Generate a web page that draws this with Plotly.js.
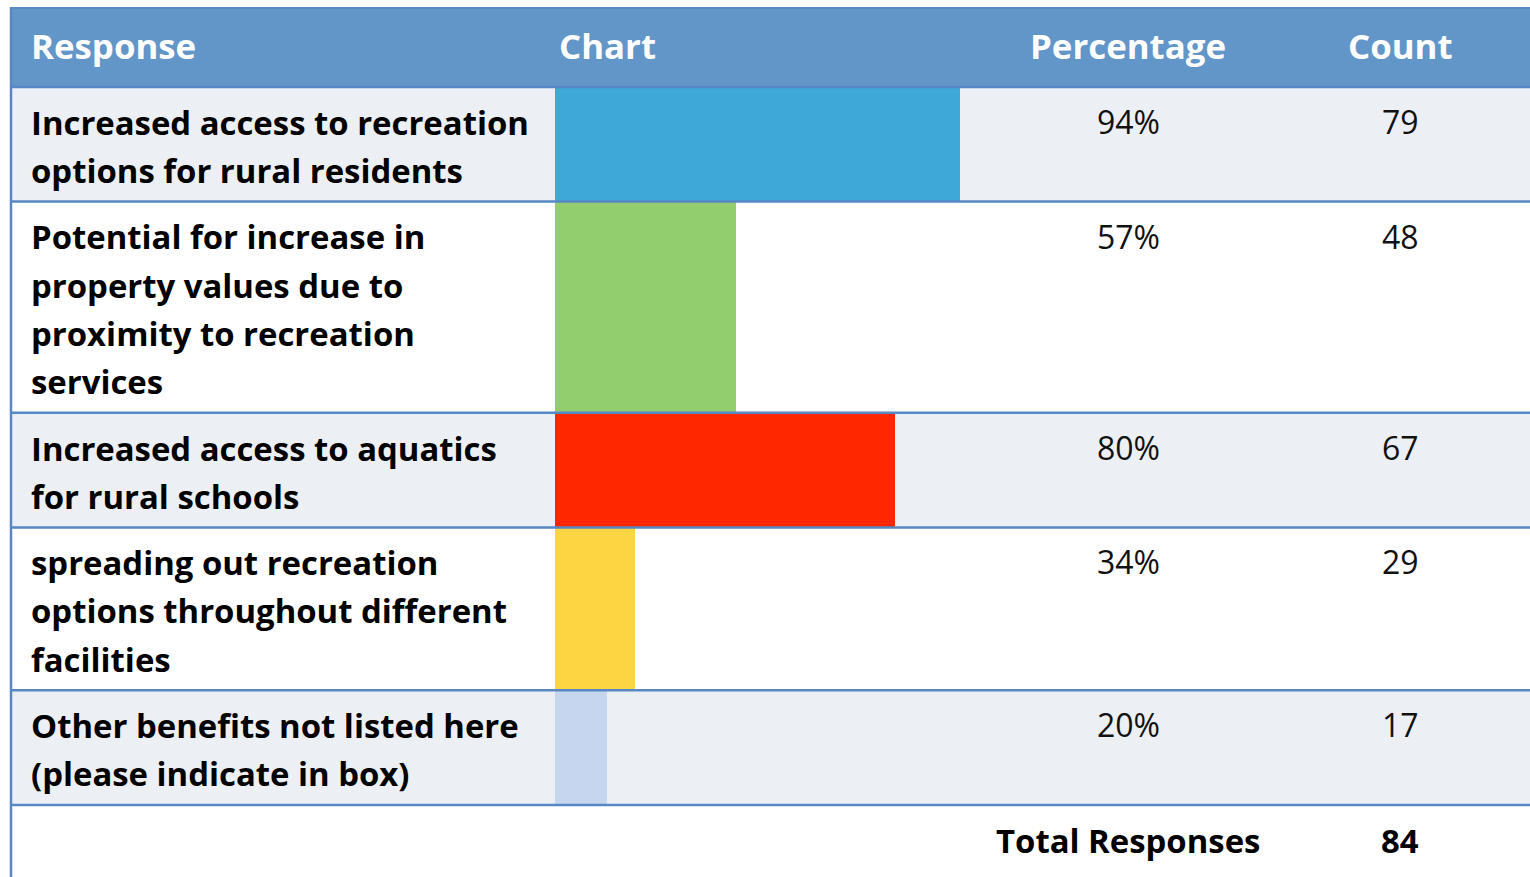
<!DOCTYPE html>
<html>
<head>
<meta charset="utf-8">
<script src="https://cdn.plot.ly/plotly-3.0.1.min.js"></script>
<style>
  html, body { margin: 0; padding: 0; background: #ffffff; }
  #chart { width: 1530px; height: 877px; }
</style>
</head>
<body>
<div id="chart"></div>
<script>
// ---------------- DATA ----------------
const headers = ["Response", "Chart", "Percentage", "Count"];
const responses = [
  "Increased access to recreation<br>options for rural residents",
  "Potential for increase in<br>property values due to<br>proximity to recreation<br>services",
  "Increased access to aquatics<br>for rural schools",
  "spreading out recreation<br>options throughout different<br>facilities",
  "Other benefits not listed here<br>(please indicate in box)"
];
const percentages = [94, 57, 80, 34, 20];
const counts = [79, 48, 67, 29, 17];
// bar lengths as drawn in the reference's "Chart" column (percent units)
const chartBarLengths = [94, 42, 79, 18.5, 12];
const barColors = ["#3ea9d8", "#93ce6e", "#ff2700", "#fdd441", "#c6d6ef"];
const totalLabel = "Total Responses";
const totalResponses = 84;

// ---------------- LAYOUT CONSTANTS ----------------
const W = 1530, H = 877;
const TABLE_LEFT = 11;
const TABLE_TOP = 7;
const HEADER_BOTTOM = 87;
const LINE_PITCH = 48.3;
const ROW_PAD = 18;
const CHART_LEFT = 555;
const CHART_FULL = 431;   // px for 100%
const COL_TEXT_X = 29;
const COL_PCT_X = 1128;
const COL_CNT_X = 1400;
const FONT_FAMILY = "'Open Sans'";
const LINE_COLOR = "#5787c4";
const GRAY = "#eceff4";
const HEADER_BLUE = "#6295c8";

// fit font sizes so text widths match the reference
const cnv = document.createElement("canvas").getContext("2d");
function fitSize(text, weight, target) {
  cnv.font = weight + " 100px " + FONT_FAMILY;
  const w = cnv.measureText(text).width;
  const s = 100 * target / w;
  return (isFinite(s) && s > 10 && s < 60) ? s : 30;
}
const BODY_FONT = fitSize("Increased access to recreation", 700, 498);
const HEAD_FONT = fitSize("Percentage", 700, 196);
const REG_FONT = fitSize("94%", 400, 63);

const px = v => v / W;

// compute row boundaries
const rowLines = responses.map(r => r.split("<br>"));
const bounds = [HEADER_BOTTOM];
rowLines.forEach(ls => bounds.push(bounds[bounds.length - 1] + ROW_PAD + LINE_PITCH * ls.length));
const footerTop = bounds[bounds.length - 1];

const rowCenters = [], rowHeights = [];
for (let i = 0; i < responses.length; i++) {
  rowCenters.push((bounds[i] + bounds[i + 1]) / 2);
  rowHeights.push(bounds[i + 1] - bounds[i]);
}

const shapes = [];
const annotations = [];

// header background
shapes.push({type: "rect", layer: "below", xref: "paper", yref: "y",
  x0: px(TABLE_LEFT), x1: 1, y0: TABLE_TOP, y1: HEADER_BOTTOM,
  fillcolor: HEADER_BLUE, line: {width: 0}});
shapes.push({type: "line", layer: "above", xref: "paper", yref: "y",
  x0: px(TABLE_LEFT), x1: 1, y0: TABLE_TOP + 1, y1: TABLE_TOP + 1,
  line: {color: "#5a8cc3", width: 2}});

// row backgrounds (alternating)
for (let i = 0; i < responses.length; i++) {
  shapes.push({type: "rect", layer: "below", xref: "paper", yref: "y",
    x0: px(TABLE_LEFT), x1: 1, y0: bounds[i], y1: bounds[i + 1],
    fillcolor: i % 2 === 0 ? GRAY : "#ffffff", line: {width: 0}});
}
// horizontal lines
bounds.forEach(b => {
  shapes.push({type: "line", layer: "above", xref: "paper", yref: "y",
    x0: px(TABLE_LEFT), x1: 1, y0: b, y1: b,
    line: {color: LINE_COLOR, width: 2.5}});
});
// left border
shapes.push({type: "line", layer: "above", xref: "paper", yref: "y",
  x0: px(TABLE_LEFT), x1: px(TABLE_LEFT), y0: TABLE_TOP, y1: H,
  line: {color: LINE_COLOR, width: 2.5}});

const MID = 0.388; // baseline -> bbox middle offset (em)

// header texts
const headBaseline = 59;
const headY = headBaseline - MID * HEAD_FONT;
const headFont = {family: FONT_FAMILY, size: HEAD_FONT, color: "#ffffff", weight: 700};
annotations.push({text: headers[0], x: px(COL_TEXT_X), xanchor: "left"});
annotations.push({text: headers[1], x: px(CHART_LEFT + 2), xanchor: "left"});
annotations.push({text: headers[2], x: px(COL_PCT_X), xanchor: "center"});
annotations.push({text: headers[3], x: px(COL_CNT_X), xanchor: "center"});
for (let k = 0; k < 4; k++) {
  Object.assign(annotations[k], {xref: "paper", yref: "y", y: headY, yanchor: "middle",
    showarrow: false, font: headFont});
}

const bodyBold = {family: FONT_FAMILY, size: BODY_FONT, color: "#000000", weight: 700};
const bodyReg = {family: FONT_FAMILY, size: REG_FONT, color: "#111111", weight: 400};
const baseOff = 48;
const yOf = (top, i, size) => top + baseOff + LINE_PITCH * i - MID * size;

for (let r = 0; r < responses.length; r++) {
  rowLines[r].forEach((ln, i) => {
    annotations.push({text: ln, xref: "paper", yref: "y", x: px(COL_TEXT_X), xanchor: "left",
      y: yOf(bounds[r], i, BODY_FONT), yanchor: "middle", showarrow: false, font: bodyBold});
  });
  annotations.push({text: percentages[r] + "%", xref: "paper", yref: "y", x: px(COL_PCT_X), xanchor: "center",
    y: yOf(bounds[r], 0, REG_FONT) - 1, yanchor: "middle", showarrow: false, font: bodyReg});
  annotations.push({text: String(counts[r]), xref: "paper", yref: "y", x: px(COL_CNT_X), xanchor: "center",
    y: yOf(bounds[r], 0, REG_FONT) - 1, yanchor: "middle", showarrow: false, font: bodyReg});
}
// footer
annotations.push({text: totalLabel, xref: "paper", yref: "y", x: px(1262), xanchor: "right",
  y: yOf(footerTop, 0, BODY_FONT), yanchor: "middle", showarrow: false, font: bodyBold});
annotations.push({text: String(totalResponses), xref: "paper", yref: "y", x: px(COL_CNT_X), xanchor: "center",
  y: yOf(footerTop, 0, BODY_FONT), yanchor: "middle", showarrow: false, font: bodyBold});

const barTrace = {
  type: "bar", orientation: "h",
  x: chartBarLengths, y: rowCenters, width: rowHeights,
  xaxis: "x2", yaxis: "y",
  marker: {color: barColors, line: {width: 0}},
  hoverinfo: "skip", showlegend: false
};

const layout = {
  width: W, height: H,
  margin: {l: 0, r: 0, t: 0, b: 0},
  paper_bgcolor: "#ffffff", plot_bgcolor: "rgba(0,0,0,0)",
  showlegend: false,
  xaxis: {range: [0, W], visible: false, domain: [0, 1], fixedrange: true},
  xaxis2: {range: [0, 100], visible: false, anchor: "y", overlaying: "x",
    domain: [px(CHART_LEFT), px(CHART_LEFT + CHART_FULL)], fixedrange: true},
  yaxis: {range: [H, 0], visible: false, domain: [0, 1], fixedrange: true},
  bargap: 0,
  shapes: shapes,
  annotations: annotations
};

Plotly.newPlot("chart", [barTrace], layout, {staticPlot: true, displayModeBar: false});
</script>
</body>
</html>
